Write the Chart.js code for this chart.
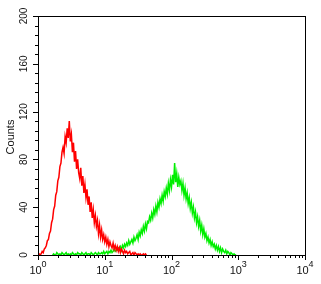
<!DOCTYPE html>
<html><head><meta charset="utf-8">
<script src="https://cdn.jsdelivr.net/npm/chart.js@4/dist/chart.umd.min.js"></script>
<style>html,body{margin:0;padding:0;background:#fff}#wrap{width:321px;height:284px}</style>
</head><body><div id="wrap"><canvas id="c" width="321" height="284"></canvas></div>
<script>
// Histogram: 256 log channels spanning 4 decades
const channelsPerDecade = 64;
const redStart = 0;
const redCounts = [0,1,0,1,3,2,5,6,8,12,
13,18,20,27,30,38,41,50,53,62,
65,74,77,86,90,85,99,94,106,98,
112,95,101,86,94,78,87,72,80,69,
64,73,58,66,52,59,48,55,42,49,
36,44,31,38,27,33,24,29,18,25,
15,21,13,17,11,15,9,13,7,11,
8,6,10,5,8,4,7,3,6,2,
5,3,1,4,2,3,1,2,3,0,
1,2,0,2,1,0,1,0,1,0,
0,1,0,1,0];
const greenStart = 14;
const greenCounts = [0,1,0,0,2,1,0,1,0,2,1,0,1,2,0,1,0,
1,0,2,1,0,1,0,2,1,1,0,2,1,0,1,2,0,1,1,0,2,1,0,1,2,1,0,2,1,1,
2,1,3,1,2,3,1,3,2,4,2,3,5,3,4,
4,6,5,7,4,8,6,9,7,10,8,12,9,11,13,
10,15,12,14,17,13,19,16,21,18,24,20,26,22,28,
27,32,29,35,31,38,34,41,36,44,40,47,43,50,45,
53,49,56,51,60,54,63,57,67,59,77,61,68,57,65,
59,62,54,60,50,56,47,52,43,48,39,44,35,40,31,
36,27,32,24,29,20,25,17,22,15,18,12,15,10,13,
8,11,7,9,5,8,4,7,3,6,2,5,3,2,4,
1,3,2,0,2,1,0,1,0,0];
const xMajorExponents = [0,1,2,3,4];
const yTickLabels = [0,40,80,120,160,200];
const yMinorStep = 8;
const yAxisTitle = 'Counts';

function toPoints(start, counts){
  return counts.map((c,i)=>({x: Math.pow(10,(start+i)/channelsPerDecade), y: c}));
}

const frame = {
  id:'frame',
  afterDraw(chart){
    const ctx = chart.ctx, a = chart.chartArea;
    const xs = chart.scales.x, ys = chart.scales.y;
    ctx.save();
    ctx.strokeStyle = '#000'; ctx.lineWidth = 1;
    ctx.strokeRect(Math.round(a.left)+0.5, Math.round(a.top)+0.5, Math.round(a.right-a.left), Math.round(a.bottom-a.top));
    ctx.beginPath();
    for (let e=0;e<4;e++){
      for (let m=1;m<10;m++){
        const px = Math.round(xs.getPixelForValue(m*Math.pow(10,e)))+0.5;
        const len = m===1?5:3;
        ctx.moveTo(px, a.bottom); ctx.lineTo(px, a.bottom+len);
      }
    }
    const pxe = Math.round(xs.getPixelForValue(10000))+0.5;
    ctx.moveTo(pxe, a.bottom); ctx.lineTo(pxe, a.bottom+5);
    for (let v=0; v<=200; v+=yMinorStep){
      const py = Math.round(ys.getPixelForValue(v))+0.5;
      const len = (v%40===0)?5:3;
      ctx.moveTo(a.left-len, py); ctx.lineTo(a.left, py);
    }
    ctx.stroke();
    ctx.fillStyle = '#111';
    xMajorExponents.forEach(e=>{
      const px = xs.getPixelForValue(Math.pow(10,e));
      ctx.font = '11px "Liberation Sans", Arial, sans-serif';
      const w1 = ctx.measureText('10').width;
      ctx.font = '9px "Liberation Sans", Arial, sans-serif';
      const w2 = ctx.measureText(String(e)).width;
      const x0 = px - (w1+w2)/2;
      ctx.textBaseline = 'alphabetic'; ctx.textAlign = 'left';
      ctx.font = '11px "Liberation Sans", Arial, sans-serif';
      ctx.fillText('10', x0, 274);
      ctx.font = '9px "Liberation Sans", Arial, sans-serif';
      ctx.fillText(String(e), x0+w1, 267);
    });
    ctx.font = '10px "Liberation Sans", Arial, sans-serif';
    ctx.textAlign = 'center'; ctx.textBaseline = 'middle';
    yTickLabels.forEach(v=>{
      const py = ys.getPixelForValue(v);
      ctx.save(); ctx.translate(24, py); ctx.rotate(-Math.PI/2);
      ctx.fillText(String(v), 0, 0); ctx.restore();
    });
    ctx.font = '11px "Liberation Sans", Arial, sans-serif';
    ctx.save(); ctx.translate(11, 137); ctx.rotate(-Math.PI/2);
    ctx.fillText(yAxisTitle, 0, 0); ctx.restore();
    ctx.restore();
  }
};

new Chart(document.getElementById('c'), {
  type:'line',
  data:{datasets:[
    {data: toPoints(redStart, redCounts), borderColor:'#ff0000', borderWidth:1.5, pointRadius:0, tension:0, fill:false},
    {data: toPoints(greenStart, greenCounts), borderColor:'#00ee00', borderWidth:1.5, pointRadius:0, tension:0, fill:false}
  ]},
  options:{
    responsive:false, animation:false, devicePixelRatio:1,
    layout:{padding:{left:38, top:16, right:16, bottom:29}},
    plugins:{legend:{display:false}, tooltip:{enabled:false}},
    scales:{
      x:{type:'logarithmic', min:1, max:10000, display:false},
      y:{type:'linear', min:0, max:200, display:false}
    }
  },
  plugins:[frame]
});
</script></body></html>
